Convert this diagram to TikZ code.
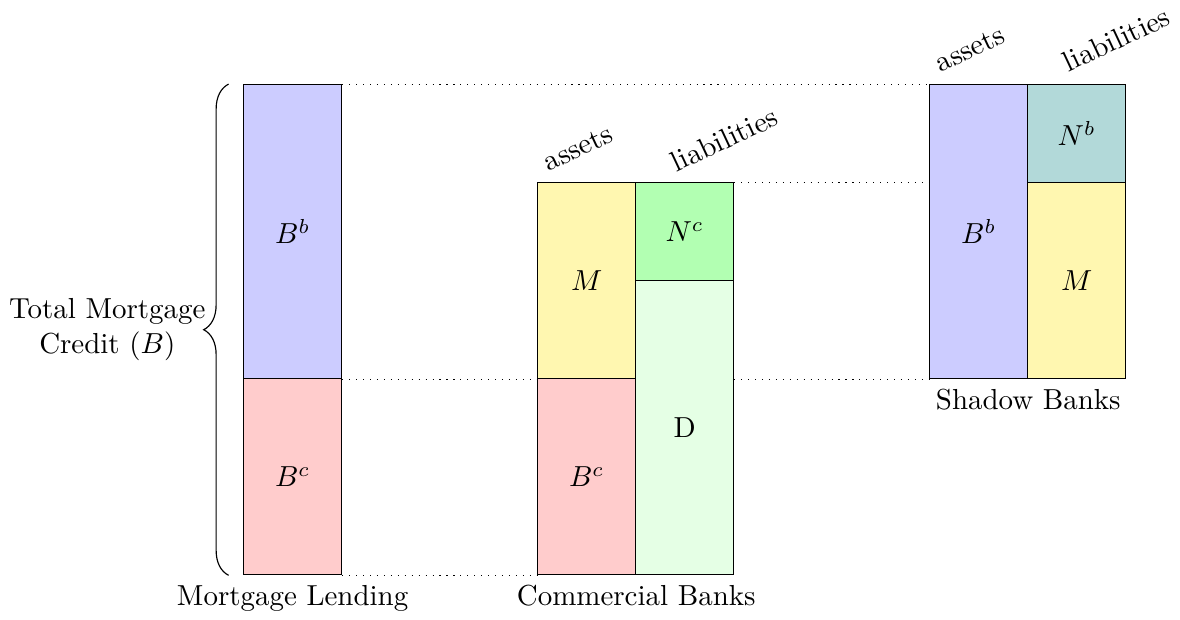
\documentclass[tikz,border=0pt]{standalone}
\usepackage{amsmath}
\usetikzlibrary{positioning,decorations.pathreplacing}
\definecolor{mlyellow}{RGB}{255,247,176}

\begin{document}
\begin{tikzpicture}[x=1.19cm, y=1.19cm,
  blk/.style={draw, inner sep=0pt, minimum width=1.19cm, anchor=south west},
  hone/.style={minimum height=1.19cm},
  htwo/.style={minimum height=2.38cm},
  hthree/.style={minimum height=3.57cm},
  side/.style={rotate=25},
  guide/.style={dotted}]
\useasboundingbox (-2.48,-0.45) rectangle (9.56,5.87);
% mortgage lending
\node[blk, htwo, fill=red!20] (mlBc) at (0,0) {$B^c$};
\node[blk, hthree, fill=blue!20] (mlBb) at (0,2) {$B^b$};
% commercial banks
\node[blk, htwo, fill=red!20] (cbBc) at (3,0) {$B^c$};
\node[blk, htwo, fill=mlyellow] (cbM) at (3,2) {$M$};
\node[blk, hthree, fill=green!10] (cbD) at (4,0) {D};
\node[blk, hone, fill=green!30] (cbNc) at (4,3) {$N^c$};
% shadow banks
\node[blk, hthree, fill=blue!20] (sbBb) at (7,2) {$B^b$};
\node[blk, htwo, fill=mlyellow] (sbM) at (8,2) {$M$};
\node[blk, hone, fill=teal!30] (sbNb) at (8,4) {$N^b$};
% titles
\node[below=0pt of mlBc] (mltitle) {Mortgage Lending};
\node[below=0pt of cbBc.south east] (cbtitle) {Commercial Banks};
\node[below=0pt of sbBb.south east] (sbtitle) {Shadow Banks};
\node[side] (cbassets) at (3.42,4.36) {assets};
\node[side] (cbliab) at (4.91,4.45) {liabilities};
\node[side] (sbassets) at (7.42,5.37) {assets};
\node[side] (sbliab) at (8.91,5.47) {liabilities};
% guides
\draw[guide] (mlBb.north east) -- (sbBb.north west);
\draw[guide] (cbNc.north east) -- (cbNc.north east -| sbBb.west);
\draw[guide] (mlBb.south east) -- (cbM.south west);
\draw[guide] (cbD.east |- cbM.south) -- (sbBb.south west);
\draw[guide] (mlBc.south east) -- (cbBc.south west);
% brace
\draw[decorate, decoration={brace, amplitude=8.6pt}] ([xshift=-5pt]mlBc.south west) -- ([xshift=-5pt]mlBb.north west)
  node[midway, left=7.8pt, inner sep=0pt, align=center] (total) {Total Mortgage\\Credit ($B$)};
\end{tikzpicture}
\end{document}
